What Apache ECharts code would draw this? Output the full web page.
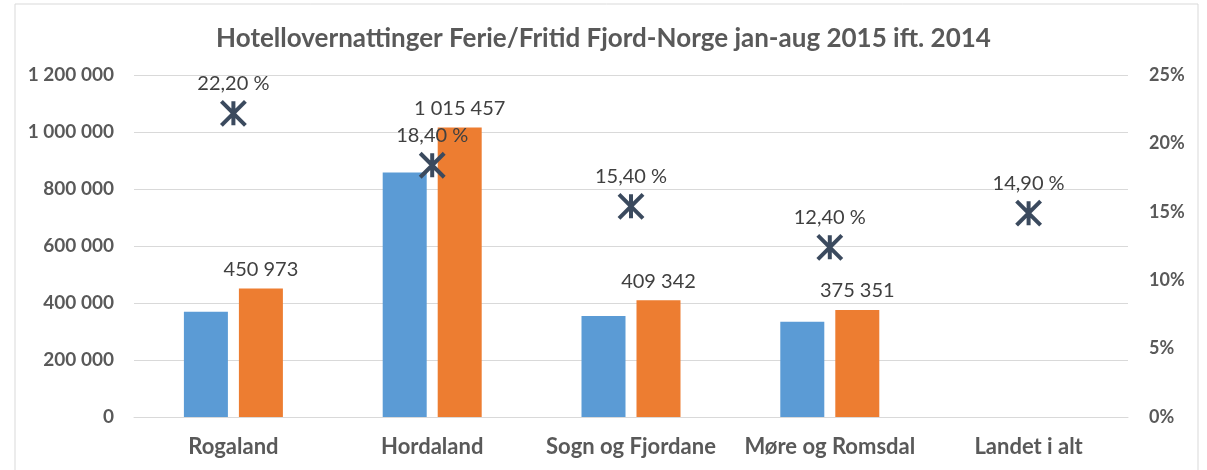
<!DOCTYPE html>
<html>
<head>
<meta charset="utf-8">
<script src="https://cdn.jsdelivr.net/npm/echarts@6/dist/echarts.min.js"></script>
<style>
html,body{margin:0;padding:0;background:#fff;}
#chart{width:1207px;height:470px;}
</style>
</head>
<body>
<div id="chart"></div>
<script>
var categories = ['Rogaland', 'Hordaland', 'Sogn og Fjordane', 'Møre og Romsdal', 'Landet i alt'];
var nights2014 = [369000, 857600, 354700, 334000, null];
var nights2015 = [450973, 1015457, 409342, 375351, null];
var changePct = [22.2, 18.4, 15.4, 12.4, 14.9];
var leftTicks = [0, 1200000, 200000];
var rightTicks = [0, 25, 5];

// tall med mellomrom som tusenskille
function fmtNum(v){
	return String(Math.round(v)).replace(/\B(?=(\d{3})+(?!\d))/g, ' ');
}
function fmtPct(v){
	return v.toFixed(2).replace('.', ',') + ' %';
}

var font = 'Lato, "Open Sans", sans-serif';
var chart = echarts.init(document.getElementById('chart'));
var option = {
	backgroundColor: '#fff',
	animation: false,
	textStyle: {fontFamily: font},
	title: {
		text: 'Hotellovernattinger Ferie/Fritid Fjord-Norge jan-aug 2015 ift. 2014',
		left: 'center',
		top: 21,
		textStyle: {fontFamily: font, fontSize: 26, fontWeight: 'bold', color: '#595959'}
	},
	graphic: [{
		type: 'rect',
		shape: {x: 15, y: 4, width: 1183, height: 480},
		style: {fill: 'none', stroke: '#d9d9d9', lineWidth: 1},
		silent: true
	}],
	grid: {left: 134, right: 79, top: 75, bottom: 53},
	xAxis: {
		type: 'category',
		data: categories,
		axisTick: {show: false},
		axisLine: {show: true, lineStyle: {color: '#d9d9d9'}},
		axisLabel: {interval: 0, fontFamily: font, fontSize: 22, fontWeight: 'bold', color: '#595959', margin: 19}
	},
	yAxis: [{
		type: 'value',
		min: leftTicks[0], max: leftTicks[1], interval: leftTicks[2],
		axisLine: {show: false},
		axisTick: {show: false},
		splitLine: {lineStyle: {color: '#d9d9d9'}},
		axisLabel: {fontFamily: font, fontSize: 19, fontWeight: 'bold', color: '#595959', margin: 20, formatter: fmtNum}
	}, {
		type: 'value',
		min: rightTicks[0], max: rightTicks[1], interval: rightTicks[2],
		axisLine: {show: false},
		axisTick: {show: false},
		splitLine: {show: false},
		axisLabel: {fontFamily: font, fontSize: 18, fontWeight: 'bold', color: '#595959', margin: 21, formatter: '{value}%'}
	}],
	series: [{
		name: '2014',
		type: 'bar',
		data: nights2014,
		barWidth: 44,
		barGap: '25%',
		itemStyle: {color: '#5b9bd5'}
	}, {
		name: '2015',
		type: 'bar',
		data: nights2015,
		barWidth: 44,
		itemStyle: {color: '#ed7d31'},
		label: {
			show: true, position: 'top', distance: 9,
			fontFamily: font, fontSize: 20, color: '#404040',
			formatter: function(p){ return fmtNum(p.value); }
		}
	}, {
		name: 'Endring',
		type: 'scatter',
		yAxisIndex: 1,
		data: changePct,
		symbol: 'path://M0,0L10,10M10,0L0,10M5,0L5,10',
		symbolSize: 24,
		itemStyle: {color: 'none', borderColor: '#3b4a5e', borderWidth: 4, opacity: 1},
		label: {
			show: true, position: 'top', distance: 5,
			fontFamily: font, fontSize: 20, color: '#404040',
			formatter: function(p){ return fmtPct(p.value); }
		},
		z: 5
	}]
};
chart.setOption(option);
</script>
</body>
</html>
